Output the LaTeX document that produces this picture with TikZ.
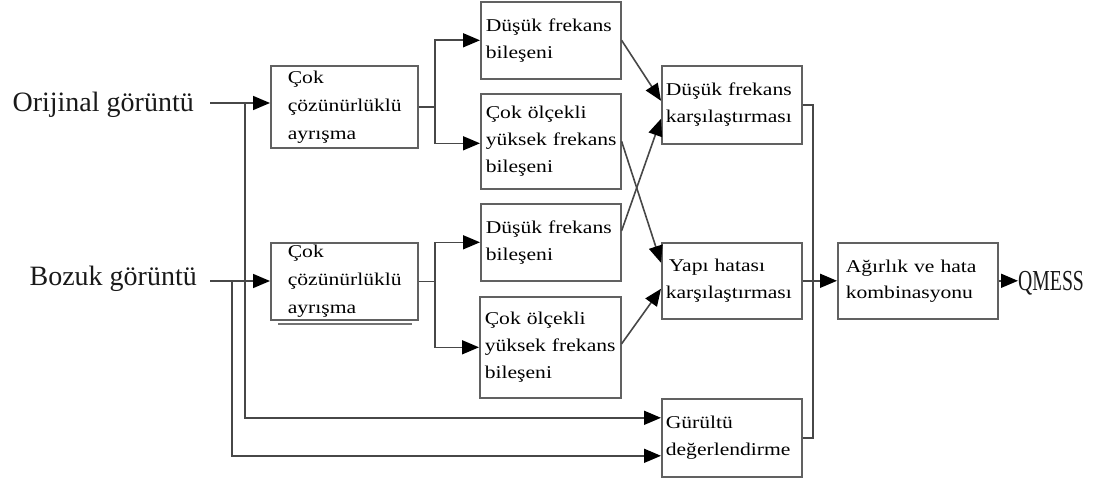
\documentclass[tikz,border=0pt]{standalone}
\usepackage{fontspec}
\setmainfont{Liberation Serif}
\newfontfamily\bxfont[FakeStretch=1.2]{Liberation Serif}
\newfontfamily\qmfont[FakeStretch=0.68]{Liberation Serif}
\usetikzlibrary{arrows.meta}
\hyphenpenalty=10000
\exhyphenpenalty=10000
\begin{document}
\begin{tikzpicture}[x=1pt,y=-1pt,
  line/.style={draw=black!72,line width=1.6pt},
  arr/.style={line,-{Triangle[length=17pt,width=14pt,black]}},
  box/.style={draw=black!62,line width=1.6pt,anchor=north west,align=left,
    font=\bxfont\fontsize{18}{27}\selectfont,
    inner ysep=0pt,text=black},
  abox/.style={box,font=\bxfont\fontsize{18}{28}\selectfont},
  lbl/.style={font=\fontsize{28}{34}\selectfont,inner sep=0pt,text=black!90}
]
\useasboundingbox (0,0) rectangle (1102,484);

% input labels
\node[lbl,anchor=base east] (o) at (194,112) {Orijinal~görüntü};
\node[lbl,anchor=base east] (b) at (197,285) {Bozuk~görüntü};

% boxes
\node[abox,minimum width=147pt,minimum height=82pt,text width=113pt,inner xsep=17pt] (A1) at (270,65) {Çok\\çözünürlüklü\\ayrışma};
\node[abox,minimum width=147pt,minimum height=77pt,text width=113pt,inner xsep=17pt] (A2) at (270,242) {Çok\\çözünürlüklü\\ayrışma};

\node[box,minimum width=140pt,minimum height=77pt,text width=130pt,inner xsep=5pt] (B1) at (480,1) {Düşük~frekans\\bileşeni};
\node[box,minimum width=140pt,minimum height=95pt,text width=130pt,inner xsep=5pt] (B2) at (480,93) {Çok~ölçekli\\yüksek~frekans\\bileşeni};
\node[box,minimum width=140pt,minimum height=77pt,text width=130pt,inner xsep=5pt] (B3) at (480,203) {Düşük~frekans\\bileşeni};
\node[box,minimum width=141pt,minimum height=101pt,text width=131pt,inner xsep=5pt] (B4) at (479,296) {Çok~ölçekli\\yüksek~frekans\\bileşeni};

\node[box,minimum width=140pt,minimum height=78pt,text width=132pt,inner xsep=4pt] (C1) at (661,65) {Düşük~frekans\\karşılaştırması};
\node[box,minimum width=140pt,minimum height=76pt,text width=132pt,inner xsep=4pt] (C2) at (661,242) {\hspace*{3pt}Yapı~hatası\\karşılaştırması};
\node[box,minimum width=140pt,minimum height=78pt,text width=132pt,inner xsep=4pt] (C3) at (661,398) {Gürültü\\değerlendirme};

\node[box,minimum width=160pt,minimum height=76pt,text width=144pt,inner xsep=8pt,
  font=\bxfont\fontsize{18}{26}\selectfont] (D) at (837,242) {Ağırlık~ve~hata\\kombinasyonu};

\node[inner sep=0pt,anchor=base west,font=\qmfont\fontsize{29}{34}\selectfont,text=black!90] (Q) at (1018,290) {QMESS};

% stray line under lower decomposition box
\draw[draw=black!55,line width=1.2pt] (278,324) -- (412,324);

% coordinates
\coordinate (oS) at (210,103);
\coordinate (j1) at (245,103);
\coordinate (bS) at (210,281);
\coordinate (j2) at (232,281);
\coordinate (s1) at (435,0);
\coordinate (r1) at (813,0);

% inputs
\draw[arr] (oS) -- (oS -| A1.west);
\draw[arr] (bS) -- (bS -| A2.west);
\draw[arr] (j1) |- ([yshift=20pt]C3.west);
\draw[arr] (j2) |- ([yshift=-18pt]C3.west);

% decomposition branches
\draw[line] (A1.east) -- (A1.east -| s1);
\draw[arr] (A1.east -| s1) |- (B1.west);
\draw[arr] (A1.east -| s1) |- ([yshift=-2pt]B2.west);
\draw[line] (A2.east) -- (A2.east -| s1);
\draw[arr] (A2.east -| s1) |- (B3.west);
\draw[arr] (A2.east -| s1) |- (B4.west);

% cross connections
\draw[arr] (B1.east) -- ([yshift=4pt]C1.west);
\draw[arr] ([yshift=11.5pt]B3.east) -- ([yshift=-14pt]C1.west);
\draw[arr] (B2.east) -- ([yshift=18pt]C2.west);
\draw[arr] ([yshift=3.5pt]B4.east) -- ([yshift=-8pt]C2.west);

% collector
\draw[line] (C1.east) -- (C1.east -| r1) -- (C3.east -| r1) -- (C3.east);
\draw[arr] (C2.east) -- (D.west);
\draw[arr] (D.east) -- (D.east -| Q.west);
\end{tikzpicture}
\end{document}
